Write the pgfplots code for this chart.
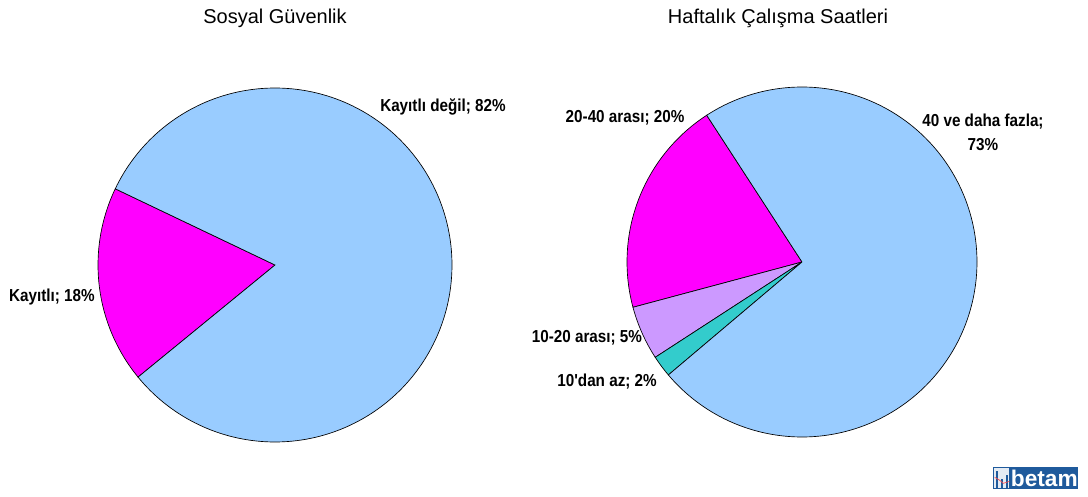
\documentclass[border=0pt]{standalone}
\usepackage{pgfplots}
\pgfplotsset{compat=1.18}
\usepackage{fontspec}
\setmainfont{Liberation Sans}
\newfontfamily\labelfont[FakeStretch=0.88]{Liberation Sans}
\definecolor{pblue}{HTML}{99CCFF}
\definecolor{pmag}{HTML}{FF00FF}
\definecolor{plilac}{HTML}{CC99FF}
\definecolor{pteal}{HTML}{33CCCC}
\definecolor{logoblue}{HTML}{1F5A9C}
\tikzset{lab/.style={font=\labelfont\bfseries\fontsize{13pt}{15pt}\selectfont, inner sep=1pt}}
\begin{document}
\begin{tikzpicture}
\path[use as bounding box, fill=white] (0,0) rectangle (816pt,372pt);
% ---- Left pie: Sosyal Guvenlik (start angle 154.5, counter-clockwise)
\begin{axis}[at={(206.25pt,173.25pt)}, anchor=center, scale only axis,
  width=265.5pt, height=265.5pt, xmin=-1, xmax=1, ymin=-1, ymax=1,
  hide axis, clip=false]
\addplot[fill=pmag, draw=black, line width=0.5pt, domain={154.5+3.6*0}:{154.5+3.6*18}, samples=60, variable=\t]
  ({cos(t)},{sin(t)}) -- (axis cs:0,0) -- cycle;
\addplot[fill=pblue, draw=black, line width=0.5pt, domain={154.5+3.6*18}:{154.5+3.6*100}, samples=200, variable=\t]
  ({cos(t)},{sin(t)}) -- (axis cs:0,0) -- cycle;
\node[font=\fontsize{15pt}{17pt}\selectfont] at (axis cs:0,1.395) {Sosyal Güvenlik};
\node[lab] at (axis cs:0.949,0.893) {Kayıtlı değil; 82\%};
\node[lab] at (axis cs:-1.26,-0.181) {Kayıtlı; 18\%};
\end{axis}
% ---- Right pie: Haftalik Calisma Saatleri (start angle 123)
\begin{axis}[at={(601.5pt,175.5pt)}, anchor=center, scale only axis,
  width=262.5pt, height=262.5pt, xmin=-1, xmax=1, ymin=-1, ymax=1,
  hide axis, clip=false]
\addplot[fill=pmag, draw=black, line width=0.5pt, domain={123+3.6*0}:{123+3.6*20}, samples=60, variable=\t]
  ({cos(t)},{sin(t)}) -- (axis cs:0,0) -- cycle;
\addplot[fill=plilac, draw=black, line width=0.5pt, domain={123+3.6*20}:{123+3.6*25}, samples=20, variable=\t]
  ({cos(t)},{sin(t)}) -- (axis cs:0,0) -- cycle;
\addplot[fill=pteal, draw=black, line width=0.5pt, domain={123+3.6*25}:{123+3.6*27}, samples=10, variable=\t]
  ({cos(t)},{sin(t)}) -- (axis cs:0,0) -- cycle;
\addplot[fill=pblue, draw=black, line width=0.5pt, domain={123+3.6*27}:{123+3.6*100}, samples=200, variable=\t]
  ({cos(t)},{sin(t)}) -- (axis cs:0,0) -- cycle;
\node[font=\fontsize{15pt}{17pt}\selectfont] at (axis cs:-0.137,1.394) {Haftalık Çalışma Saatleri};
\node[lab] at (axis cs:-1.011,0.823) {20-40 arası; 20\%};
\node[lab] at (axis cs:1.034,0.80) {40 ve daha fazla;};
\node[lab] at (axis cs:1.034,0.67) {73\%};
\node[lab] at (axis cs:-1.229,-0.434) {10-20 arası; 5\%};
\node[lab] at (axis cs:-1.114,-0.686) {10'dan az; 2\%};
\end{axis}
% ---- logo
\fill[logoblue] (744.75pt,5.25pt) rectangle (808.5pt,21.75pt);
\fill[white!88!logoblue] (745.5pt,6pt) rectangle (757pt,21pt);
\draw[logoblue, line width=1.3pt] (748pt,6pt) -- (748pt,19pt) (751.5pt,6pt) -- (751.5pt,13pt) (755pt,6pt) -- (755pt,16pt);
\draw[red!70, line width=0.5pt] (746pt,14pt) -- (749.5pt,12pt) -- (752.5pt,9.5pt) -- (757pt,11pt);
\node[white, font=\bfseries\fontsize{17pt}{17pt}\selectfont, inner sep=0pt, anchor=base west] at (758pt,7.5pt) {betam};
\end{tikzpicture}
\end{document}
